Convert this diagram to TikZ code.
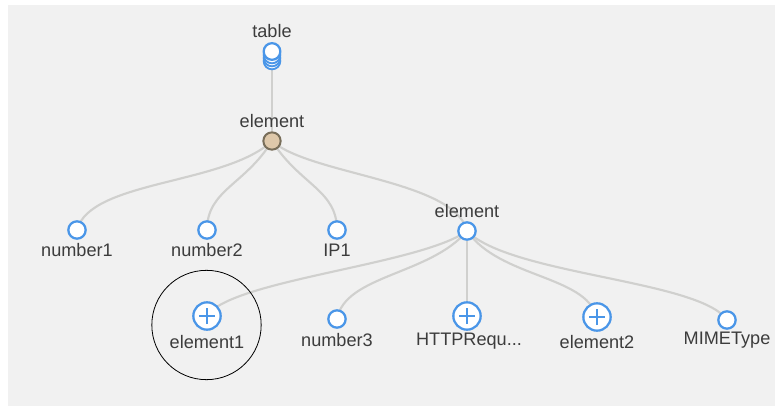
\documentclass[tikz,border=0pt]{standalone}
\usepackage{fontspec}
\setmainfont{Liberation Sans}
\usetikzlibrary{positioning,backgrounds}
\definecolor{pagegray}{RGB}{241,241,241}
\definecolor{nodeblue}{RGB}{74,150,232}
\definecolor{linkgray}{RGB}{208,208,206}
\definecolor{rootfill}{RGB}{222,200,170}
\definecolor{rootedge}{RGB}{120,110,90}
\definecolor{labelgray}{RGB}{60,60,60}
\tikzset{
	leaf/.style={circle,draw=nodeblue,fill=white,line width=1.7pt,inner sep=0pt,minimum size=13pt},
	plusnode/.style={circle,draw=nodeblue,fill=white,line width=1.7pt,inner sep=0pt,minimum size=20.5pt},
	rootnode/.style={circle,draw=rootedge,fill=rootfill,line width=1.5pt,inner sep=0pt,minimum size=13pt},
	tag/.style={text=labelgray,font=\fontsize{13.6}{16}\selectfont,inner sep=0pt},
	link/.style={draw=linkgray,line width=1.6pt},
	plusmark/.style={draw=nodeblue,line width=1.3pt}
}
\begin{document}
\begin{tikzpicture}[x=0.75pt,y=-0.75pt]
	\useasboundingbox (0,0) rectangle (775,406);
	% database icon
	\foreach \yy in {61,58,55}
		\node[leaf,minimum size=12.5pt,line width=1.4pt] at (272,\yy) {};
	\node[leaf,minimum size=12.5pt] (tableicon) at (272,51.5) {};
	% tree nodes
	\node[rootnode] (rootel) at (272,141) {};
	\node[leaf] (number1) at (77,230) {};
	\node[leaf] (number2) at (207,230) {};
	\node[leaf] (ip1) at (337,230) {};
	\node[leaf] (innerel) at (467,231) {};
	\node[plusnode] (element1) at (207,316) {};
	\node[leaf] (number3) at (337,319) {};
	\node[plusnode] (httpreq) at (467,316) {};
	\node[plusnode] (element2) at (597,317) {};
	\node[leaf] (mimetype) at (727,320) {};
	% plus signs
	\foreach \nm in {element1,httpreq,element2} {
		\draw[plusmark] ([xshift=-6pt]\nm.center) -- ([xshift=6pt]\nm.center);
		\draw[plusmark] ([yshift=-6pt]\nm.center) -- ([yshift=6pt]\nm.center);
	}
	% labels
	\node[tag] (tabletag) at (272,31) {table};
	\node[tag] (roottag) at (272,121) {element};
	\node[tag] (number1tag) at (77,250) {number1};
	\node[tag] (number2tag) at (207,250) {number2};
	\node[tag] (ip1tag) at (337,250) {IP1};
	\node[tag] (innertag) at (467,211) {element};
	\node[tag] (element1tag) at (207,342) {element1};
	\node[tag] (number3tag) at (337,340) {number3};
	\node[tag] (httpreqtag) at (469,341) {HTTPRequ...};
	\node[tag] (element2tag) at (597,342) {element2};
	\node[tag] (mimetypetag) at (727,340) {MIMEType};
	% marker circle
	\node[circle,draw=black,line width=0.6pt,minimum size=82pt,inner sep=0pt] (marker) at (206.5,325) {};
	% links
	\begin{pgfonlayer}{background}
		\fill[pagegray] (8,5) rectangle (775,406);
		\draw[link] (tableicon) -- (rootel);
		\draw[link] (rootel.center) .. controls (225,185) and (90,180) .. (number1.center);
		\draw[link] (rootel.center) .. controls (245,185) and (207,190) .. (number2.center);
		\draw[link] (rootel.center) .. controls (300,185) and (337,190) .. (ip1.center);
		\draw[link] (rootel.center) .. controls (310,175) and (455,180) .. (innerel.center);
		\draw[link] (innerel.center) .. controls (420,265) and (230,280) .. (element1.center);
		\draw[link] (innerel.center) .. controls (430,275) and (345,275) .. (number3.center);
		\draw[link] (innerel) -- (httpreq);
		\draw[link] (innerel.center) .. controls (500,278) and (585,275) .. (element2.center);
		\draw[link] (innerel.center) .. controls (510,275) and (700,280) .. (mimetype.center);
	\end{pgfonlayer}
\end{tikzpicture}
\end{document}
